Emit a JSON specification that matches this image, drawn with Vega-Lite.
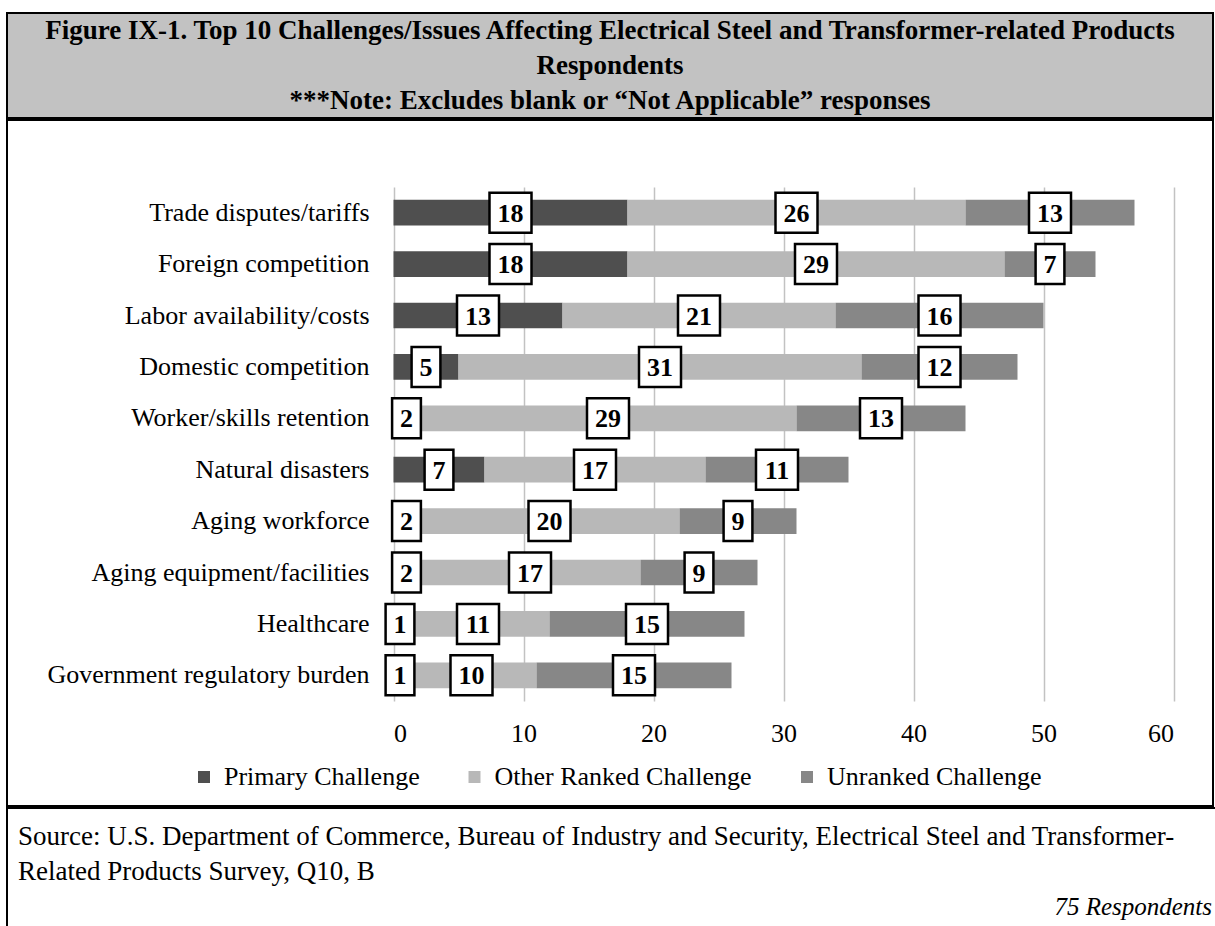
{
  "$schema": "https://vega.github.io/schema/vega-lite/v6.json",
  "background": "white",
  "padding": {"left": 6, "top": 12, "right": 0, "bottom": 0},
  "spacing": 0,
  "resolve": {"scale": {"x": "independent", "y": "independent"}},
  "config": {"font": "Liberation Serif"},
  "vconcat": [
    {
      "width": 1206,
      "height": 105,
      "view": {"fill": "#c2c2c2", "stroke": "black", "strokeWidth": 2},
      "data": {"values": [
        {"line": 1, "text": "Figure IX-1.  Top 10 Challenges/Issues Affecting Electrical Steel and Transformer-related Products"},
        {"line": 2, "text": "Respondents"},
        {"line": 3, "text": "***Note: Excludes blank or “Not Applicable” responses"}
      ]},
      "mark": {"type": "text", "font": "Liberation Serif", "fontWeight": "bold", "fontSize": 27, "align": "center", "baseline": "middle", "color": "black"},
      "encoding": {
        "x": {"datum": 0.5, "type": "quantitative", "scale": {"domain": [0, 1]}, "axis": null},
        "y": {"field": "line", "type": "ordinal", "scale": {"type": "point", "padding": 0.5}, "axis": null},
        "text": {"field": "text"}
      }
    },
    {
      "width": 1206,
      "height": 686,
      "view": {"stroke": "black", "strokeWidth": 2},
      "data": {"values": [
        {"challenge": "Trade disputes/tariffs", "type": "Primary Challenge", "rank": 1, "value": 18},
        {"challenge": "Trade disputes/tariffs", "type": "Other Ranked Challenge", "rank": 2, "value": 26},
        {"challenge": "Trade disputes/tariffs", "type": "Unranked Challenge", "rank": 3, "value": 13},
        {"challenge": "Foreign competition", "type": "Primary Challenge", "rank": 1, "value": 18},
        {"challenge": "Foreign competition", "type": "Other Ranked Challenge", "rank": 2, "value": 29},
        {"challenge": "Foreign competition", "type": "Unranked Challenge", "rank": 3, "value": 7},
        {"challenge": "Labor availability/costs", "type": "Primary Challenge", "rank": 1, "value": 13},
        {"challenge": "Labor availability/costs", "type": "Other Ranked Challenge", "rank": 2, "value": 21},
        {"challenge": "Labor availability/costs", "type": "Unranked Challenge", "rank": 3, "value": 16},
        {"challenge": "Domestic competition", "type": "Primary Challenge", "rank": 1, "value": 5},
        {"challenge": "Domestic competition", "type": "Other Ranked Challenge", "rank": 2, "value": 31},
        {"challenge": "Domestic competition", "type": "Unranked Challenge", "rank": 3, "value": 12},
        {"challenge": "Worker/skills retention", "type": "Primary Challenge", "rank": 1, "value": 2},
        {"challenge": "Worker/skills retention", "type": "Other Ranked Challenge", "rank": 2, "value": 29},
        {"challenge": "Worker/skills retention", "type": "Unranked Challenge", "rank": 3, "value": 13},
        {"challenge": "Natural disasters", "type": "Primary Challenge", "rank": 1, "value": 7},
        {"challenge": "Natural disasters", "type": "Other Ranked Challenge", "rank": 2, "value": 17},
        {"challenge": "Natural disasters", "type": "Unranked Challenge", "rank": 3, "value": 11},
        {"challenge": "Aging workforce", "type": "Primary Challenge", "rank": 1, "value": 2},
        {"challenge": "Aging workforce", "type": "Other Ranked Challenge", "rank": 2, "value": 20},
        {"challenge": "Aging workforce", "type": "Unranked Challenge", "rank": 3, "value": 9},
        {"challenge": "Aging equipment/facilities", "type": "Primary Challenge", "rank": 1, "value": 2},
        {"challenge": "Aging equipment/facilities", "type": "Other Ranked Challenge", "rank": 2, "value": 17},
        {"challenge": "Aging equipment/facilities", "type": "Unranked Challenge", "rank": 3, "value": 9},
        {"challenge": "Healthcare", "type": "Primary Challenge", "rank": 1, "value": 1},
        {"challenge": "Healthcare", "type": "Other Ranked Challenge", "rank": 2, "value": 11},
        {"challenge": "Healthcare", "type": "Unranked Challenge", "rank": 3, "value": 15},
        {"challenge": "Government regulatory burden", "type": "Primary Challenge", "rank": 1, "value": 1},
        {"challenge": "Government regulatory burden", "type": "Other Ranked Challenge", "rank": 2, "value": 10},
        {"challenge": "Government regulatory burden", "type": "Unranked Challenge", "rank": 3, "value": 15}
      ]},
      "transform": [
        {"stack": "value", "groupby": ["challenge"], "sort": [{"field": "rank", "order": "ascending"}], "as": ["x0", "x1"]},
        {"calculate": "(datum.x0 + datum.x1) / 2", "as": "mid"}
      ],
      "encoding": {
        "y": {
          "field": "challenge",
          "type": "nominal",
          "sort": ["Trade disputes/tariffs", "Foreign competition", "Labor availability/costs", "Domestic competition", "Worker/skills retention", "Natural disasters", "Aging workforce", "Aging equipment/facilities", "Healthcare", "Government regulatory burden"],
          "scale": {"range": [67, 581], "paddingInner": 0.5, "paddingOuter": 0.25},
          "axis": {"title": null, "domain": false, "ticks": false, "labelPadding": -362, "labelFont": "Liberation Serif", "labelFontSize": 26, "labelColor": "black", "labelLimit": 0}
        }
      },
      "layer": [
        {
          "mark": {"type": "bar"},
          "encoding": {
            "x": {
              "field": "x0",
              "type": "quantitative",
              "scale": {"domain": [0, 60], "range": [386.5, 1166.5], "nice": false},
              "axis": {"orient": "top", "title": null, "values": [0, 10, 20, 30, 40, 50, 60], "grid": true, "gridColor": "#c2c2c2", "gridWidth": 1.5, "domain": false, "ticks": false, "labelPadding": -613, "labelBaseline": "middle", "labelFont": "Liberation Serif", "labelFontSize": 26, "labelColor": "black"}
            },
            "x2": {"field": "x1"},
            "color": {
              "field": "type",
              "type": "nominal",
              "scale": {"domain": ["Primary Challenge", "Other Ranked Challenge", "Unranked Challenge"], "range": ["#4f4f4f", "#b8b8b8", "#878787"]},
              "legend": {"orient": "none", "legendX": 184, "legendY": 751, "direction": "horizontal", "title": null, "symbolType": "square", "symbolSize": 144, "symbolStrokeWidth": 0, "symbolOpacity": 1, "labelFont": "Liberation Serif", "labelFontSize": 26, "labelColor": "black", "labelOffset": 7, "columnPadding": 41.5, "labelLimit": 0}
            }
          }
        },
        {
          "mark": {"type": "point", "filled": true, "fill": "white", "stroke": "black", "strokeWidth": 2.5, "size": 1600, "opacity": 1},
          "encoding": {
            "x": {"field": "mid", "type": "quantitative"},
            "shape": {"condition": {"test": "datum.value >= 10", "value": "M-1.05,-1H1.05V1H-1.05Z"}, "value": "M-0.72,-1H0.72V1H-0.72Z"}
          }
        },
        {
          "mark": {"type": "text", "font": "Liberation Serif", "fontWeight": "bold", "fontSize": 26, "color": "black", "align": "center", "baseline": "middle", "dy": 1},
          "encoding": {
            "x": {"field": "mid", "type": "quantitative"},
            "text": {"field": "value"}
          }
        }
      ]
    },
    {
      "width": 1215,
      "height": 128,
      "view": {"stroke": "black", "strokeWidth": 2},
      "encoding": {
        "y": {"field": "line", "type": "ordinal", "scale": {"type": "point", "padding": 0.855, "domain": [1, 2, 3]}, "axis": null}
      },
      "layer": [
        {
          "data": {"values": [
            {"line": 1, "text": "Source: U.S. Department of Commerce, Bureau of Industry and Security, Electrical Steel and Transformer-"},
            {"line": 2, "text": "Related Products Survey, Q10, B"}
          ]},
          "mark": {"type": "text", "font": "Liberation Serif", "align": "left", "baseline": "middle", "fontSize": 27, "dx": 11, "color": "black"},
          "encoding": {
            "x": {"datum": 0, "type": "quantitative", "scale": {"domain": [0, 1]}, "axis": null},
            "text": {"field": "text"}
          }
        },
        {
          "data": {"values": [{"line": 3, "text": "75 Respondents"}]},
          "mark": {"type": "text", "font": "Liberation Serif", "align": "right", "baseline": "middle", "fontSize": 25, "fontStyle": "italic", "dx": -10, "color": "black"},
          "encoding": {
            "x": {"datum": 1, "type": "quantitative"},
            "text": {"field": "text"}
          }
        }
      ]
    }
  ]
}
